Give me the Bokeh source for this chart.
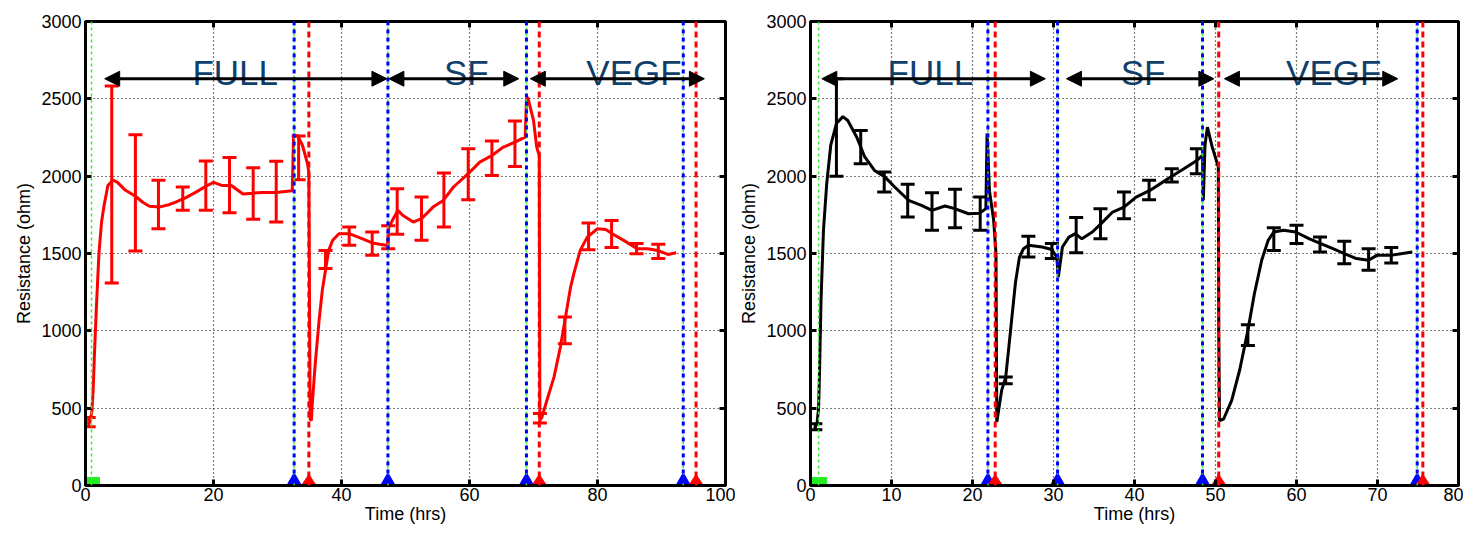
from bokeh.plotting import figure
from bokeh.layouts import row
from bokeh.models import (Range1d, Span, Arrow, NormalHead, LinearAxis, FixedTicker,
                          CustomJSTickFormatter, Whisker, ColumnDataSource, TeeHead)
from bokeh.core.properties import value
from bokeh.embed import file_html
from bokeh.resources import INLINE

FONT = "Liberation Sans"
TXT = "#103f6b"

# ---------------- left panel (red) ----------------
left_t = [0.4, 0.7, 1.0, 1.2, 1.4, 1.7, 2.1, 2.5, 2.9, 3.5, 4.3, 5.0, 6.2, 7.8, 9.0, 10.0,
          11.5, 13.0, 14.0, 15.6, 17.2, 18.8, 20.0, 21.3, 22.8, 24.6, 26.2, 27.6, 29.8,
          32.3, 32.5, 33.1, 33.9, 34.7, 34.9, 35.0, 35.1, 35.3, 35.4, 35.9, 36.5, 37.0,
          37.5, 38.0, 38.6, 39.6, 41.2, 43.3, 44.8, 46.9, 47.2, 47.4, 48.8, 49.6, 51.2,
          52.5, 54.3, 55.9, 57.5, 59.8, 61.6, 63.5, 65.3, 67.1, 68.7, 68.9, 69.1, 70.0,
          70.5, 70.9, 71.0, 71.3, 72.1, 73.2, 74.2, 75.0, 75.8, 76.3, 77.3, 78.4, 80.0,
          81.3, 82.3, 84.1, 86.2, 87.8, 89.4, 91.0, 92.3]
left_r = [400, 410, 480, 620, 850, 1150, 1500, 1700, 1810, 1940, 1975, 1960, 1910, 1870,
          1830, 1805, 1800, 1815, 1830, 1860, 1895, 1935, 1960, 1940, 1940, 1885, 1890,
          1895, 1895, 1905, 2250, 2265, 2200, 2080, 2020, 1200, 430, 420, 507, 790, 1068,
          1262, 1391, 1520, 1584, 1628, 1628, 1595, 1568, 1553, 1560, 1671, 1779, 1746,
          1703, 1725, 1800, 1843, 1930, 2016, 2091, 2134, 2188, 2220, 2253, 2490, 2511,
          2361, 2188, 2134, 425, 440, 551, 701, 895, 1089, 1283, 1370, 1520, 1606, 1660,
          1655, 1628, 1585, 1531, 1531, 1520, 1494, 1505]
left_err_t = [0.5, 4.1, 7.8, 11.4, 15.2, 18.8, 22.5, 26.2, 29.8, 33.3, 37.5, 41.2, 44.8,
              47.3, 48.7, 52.5, 56.0, 59.8, 63.5, 67.1, 71.0, 74.9, 78.6, 82.2, 86.1, 89.5]
left_err_lo = [380, 1309, 1516, 1660, 1779, 1779, 1764, 1721, 1703, 1977, 1403, 1553, 1488,
               1530, 1624, 1585, 1671, 1848, 2005, 2063, 404, 917, 1525, 1538, 1499, 1467]
left_err_hi = [440, 2583, 2268, 1973, 1930, 2098, 2120, 2055, 2096, 2259, 1520, 1671, 1639,
               1680, 1919, 1865, 2020, 2178, 2227, 2356, 465, 1089, 1697, 1714, 1564, 1559]
left_green = [0.94, 32.6, 47.25, 68.9, 93.4]
left_blue = [32.6, 47.25, 68.9, 93.4]
left_red = [34.9, 70.9, 95.4]
left_phase_start = [3.0, 47.4, 69.5]
left_phase_end = [47.1, 67.7, 96.7]
left_phase_text_x = [23.4, 59.5, 85.7]

# ---------------- right panel (black) ----------------
right_t = [0.5, 0.8, 1.0, 1.1, 1.3, 1.6, 2.0, 2.5, 3.2, 4.0, 4.6, 5.7, 6.7, 7.9, 9.2, 10.4,
           12.1, 13.7, 15.0, 16.6, 17.8, 19.5, 20.9, 21.65, 21.8, 22.1, 22.6, 22.9, 22.95,
           23.0, 23.6, 24.1, 24.7, 25.3, 25.8, 26.3, 26.9, 28.6, 29.8, 30.4, 30.6, 31.1,
           31.9, 32.7, 33.5, 34.8, 36.0, 37.3, 38.7, 40.2, 41.9, 43.3, 44.6, 46.1, 47.7,
           48.4, 48.5, 48.7, 49.0, 49.6, 50.35, 50.4, 50.5, 51.0, 52.0, 53.0, 54.0, 54.8,
           55.7, 56.5, 57.2, 58.4, 59.9, 61.6, 63.0, 64.5, 65.9, 67.4, 68.9, 69.9, 71.6,
           72.9, 74.3]
right_r = [370, 400, 500, 700, 1200, 1650, 1950, 2200, 2340, 2385, 2360, 2253, 2124, 2037,
           1994, 1930, 1844, 1811, 1779, 1807, 1790, 1757, 1761, 1790, 2275, 1903, 1720,
           1500, 900, 410, 615, 701, 1003, 1310, 1477, 1531, 1553, 1542, 1526, 1477, 1348,
           1542, 1606, 1628, 1595, 1639, 1700, 1768, 1800, 1865, 1908, 1955, 1999, 2048,
           2102, 2134, 1844, 2200, 2317, 2188, 2059, 1000, 420, 430, 550, 750, 1003, 1240,
           1456, 1585, 1639, 1650, 1639, 1595, 1564, 1531, 1499, 1467, 1456, 1488, 1488,
           1499, 1510]
right_err_t = [0.6, 3.2, 6.2, 9.1, 12.0, 15.0, 17.85, 20.95, 24.1, 26.9, 29.8, 32.8, 35.8,
               38.7, 41.8, 44.6, 47.7, 54.0, 57.2, 60.0, 62.9, 65.9, 68.9, 71.7]
right_err_lo = [360, 2000, 2081, 1898, 1736, 1650, 1667, 1650, 658, 1477, 1467, 1505, 1596,
                1725, 1848, 1962, 2016, 905, 1520, 1564, 1509, 1434, 1391, 1438]
right_err_hi = [400, 2630, 2296, 2027, 1947, 1893, 1915, 1865, 701, 1611, 1564, 1732, 1790,
                1898, 1973, 2048, 2178, 1040, 1667, 1682, 1606, 1580, 1531, 1538]
right_green = [1.0, 21.9, 30.5, 48.4, 74.9]
right_blue = [21.9, 30.5, 48.4, 74.9]
right_red = [22.8, 50.4, 75.6]
right_phase_start = [1.4, 31.6, 51.1]
right_phase_end = [29.0, 49.8, 72.5]
right_phase_text_x = [14.8, 41.05, 64.6]

phase_names = ["FULL", "SF", "VEGF"]
arrow_level = 2630
text_level = 2670
y_ticks = [0, 500, 1000, 1500, 2000, 2500, 3000]
left_x_ticks = [0, 20, 40, 60, 80, 100]
right_x_ticks = [0, 10, 20, 30, 40, 50, 60, 70, 80]


def panel(t, r, et, elo, ehi, green, blue, red, ps, pe, ptx, color, xmax, xticks,
          width, bl, br, ylab):
    p = figure(width=width, height=530, x_range=Range1d(0, xmax), y_range=Range1d(0, 3000),
               output_backend="svg", toolbar_location=None, min_border_left=bl,
               min_border_right=br, min_border_top=21, min_border_bottom=45)
    p.outline_line_color = "black"
    p.outline_line_width = 3
    p.xaxis.ticker = FixedTicker(ticks=xticks)
    p.yaxis.ticker = FixedTicker(ticks=y_ticks)
    for ax in (p.xaxis[0], p.yaxis[0]):
        ax.major_tick_in = 6
        ax.major_tick_out = 0
        ax.minor_tick_line_color = None
        ax.major_tick_line_width = 3
        ax.axis_line_width = 3
        ax.major_label_text_font = FONT
        ax.major_label_text_font_size = "18px"
        ax.major_label_text_color = "black"
        ax.axis_label_text_font = FONT
        ax.axis_label_text_font_size = "18px"
        ax.axis_label_text_font_style = "normal"
        ax.axis_label_text_color = "black"
    p.xaxis.axis_label = "Time (hrs)"
    p.xaxis.major_label_standoff = 2
    p.xaxis.axis_label_standoff = 0
    p.yaxis.axis_label = ylab
    p.yaxis.major_label_standoff = 4
    p.yaxis.axis_label_standoff = 4
    blank = CustomJSTickFormatter(code="return ''")
    for loc, tk in (("above", xticks), ("right", y_ticks)):
        ax = LinearAxis(ticker=FixedTicker(ticks=tk), formatter=blank, major_tick_in=6,
                        major_tick_out=0, minor_tick_line_color=None, major_tick_line_width=3,
                        major_label_standoff=0, axis_line_width=3)
        p.add_layout(ax, loc)
    p.xgrid.ticker = FixedTicker(ticks=xticks)
    p.ygrid.ticker = FixedTicker(ticks=y_ticks)
    p.grid.grid_line_color = "black"
    p.grid.grid_line_dash = "1 3"
    p.grid.grid_line_width = 1.2

    for g in green:
        p.add_layout(Span(location=g, dimension="height", line_color="#33ee33",
                          line_width=1.5, line_dash="3 3"))
    for b in blue:
        p.add_layout(Span(location=b, dimension="height", line_color="#0000ff",
                          line_width=3, line_dash="4 4"))
    for rr in red:
        p.add_layout(Span(location=rr, dimension="height", line_color="#ff0000",
                          line_width=3, line_dash="6 4"))

    p.line(t, r, line_color=color, line_width=3)
    src = ColumnDataSource(dict(t=et, lo=elo, hi=ehi))
    p.add_layout(Whisker(source=src, base="t", lower="lo", upper="hi", dimension="height",
                         line_color=color, line_width=3,
                         lower_head=TeeHead(size=14, line_color=color, line_width=3),
                         upper_head=TeeHead(size=14, line_color=color, line_width=3)))

    p.scatter(green[:1], [0], marker="square", size=16, color="#22ee22")
    p.scatter(blue, [0] * len(blue), marker="triangle", size=22, color="#0000ff")
    p.scatter(red, [0] * len(red), marker="diamond", size=22, color="#ff0000")

    for a, b in zip(ps, pe):
        p.add_layout(Arrow(x_start=a, y_start=arrow_level, x_end=b, y_end=arrow_level,
                           line_width=3, line_color="black",
                           start=NormalHead(size=15, fill_color="black", line_color="black"),
                           end=NormalHead(size=15, fill_color="black", line_color="black")))
    p.text(x=ptx, y=[text_level] * 3, text=phase_names, text_font=value(FONT),
           text_font_size="35px", text_color=TXT, text_align="center",
           text_baseline="alphabetic")
    return p


p1 = panel(left_t, left_r, left_err_t, left_err_lo, left_err_hi, left_green, left_blue,
           left_red, left_phase_start, left_phase_end, left_phase_text_x, "#ff0000", 100,
           left_x_ticks, 735, 85, 10, "Resistance (ohm)")
p2 = panel(right_t, right_r, right_err_t, right_err_lo, right_err_hi, right_green, right_blue,
           right_red, right_phase_start, right_phase_end, right_phase_text_x, "black", 80,
           right_x_ticks, 728, 75, 5, "Resistance (ohm)")

layout = row(p1, p2)
open("out.html", "w").write(file_html(layout, INLINE))
